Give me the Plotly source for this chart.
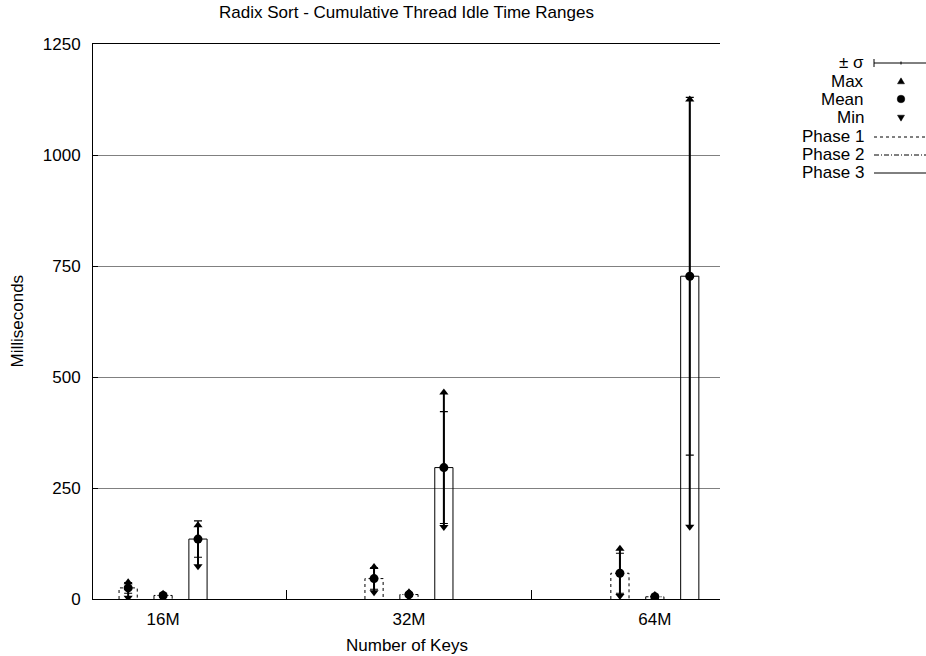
import plotly.graph_objects as go

# ---------------- data ----------------
categories = ["16M", "32M", "64M"]
phase_names = ["Phase 1", "Phase 2", "Phase 3"]

p1_mean = [25, 46, 58]
p1_max = [38, 72, 113]
p1_min = [3, 15, 7]
p1_sd = [12, 24, 45]

p2_mean = [8, 10, 5]
p2_max = [12, 15, 9]
p2_min = [4, 5, 2]
p2_sd = [3, 4, 3]

p3_mean = [135, 296, 727]
p3_max = [166, 465, 1125]
p3_min = [74, 162, 163]
p3_sd = [41, 126, 403]

y_ticks = [0, 250, 500, 750, 1000, 1250]

DASH1 = "3px,3px"
DASH2 = "5px,2px,1px,2px"
phases = [
    (p1_mean, p1_max, p1_min, p1_sd, DASH1),
    (p2_mean, p2_max, p2_min, p2_sd, DASH2),
    (p3_mean, p3_max, p3_min, p3_sd, "solid"),
]

# ---------------- geometry ----------------
FONT = "Liberation Sans, Arial, sans-serif"
FS = 17
W, H = 926, 656
ML, MT = 93, 44
MR = W - 720
MB = H - 599
offsets = [-0.142, 0.0, 0.142]
half_w = 0.037

fig = go.Figure()

for k, (mean, mx, mn, sd, dash) in enumerate(phases):
    bx, by = [], []
    for i in range(len(categories)):
        c = i + offsets[k]
        bx += [c - half_w, c - half_w, c + half_w, c + half_w, None]
        by += [0, mean[i], mean[i], 0, None]
    fig.add_trace(go.Scatter(x=bx, y=by, mode="lines",
                             line=dict(color="black", width=1, dash=dash),
                             hoverinfo="skip", showlegend=False))

for k, (mean, mx, mn, sd, dash) in enumerate(phases):
    xs = [i + offsets[k] for i in range(len(categories))]
    lx, ly = [], []
    for i, c in enumerate(xs):
        lx += [c, c, None]
        ly += [mn[i], mx[i], None]
    fig.add_trace(go.Scatter(x=lx, y=ly, mode="lines",
                             line=dict(color="black", width=2),
                             hoverinfo="skip", showlegend=False))
    fig.add_trace(go.Scatter(x=xs, y=mean, mode="markers",
                             marker=dict(symbol="circle", size=9, color="black"),
                             error_y=dict(type="data", array=sd, visible=True,
                                          color="black", thickness=1.2, width=4),
                             showlegend=False))
    fig.add_trace(go.Scatter(x=xs, y=mx, mode="markers",
                             marker=dict(symbol="triangle-up", size=8, color="black"),
                             showlegend=False))
    fig.add_trace(go.Scatter(x=xs, y=mn, mode="markers",
                             marker=dict(symbol="triangle-down", size=8, color="black"),
                             showlegend=False))

# ---------------- custom legend (right side) ----------------
PW = W - ML - MR
PH = H - MT - MB


def px(xs):
    return (xs - ML) / PW


def py(ys):
    return (H - MB - ys) / PH


legend_labels = ["\u00b1 \u03c3", "Max", "Mean", "Min"] + phase_names
legend_y = [63, 81, 99, 118, 137, 155, 173]
text_right = 866
sample_x0, sample_x1, sym_x = 874, 926, 901

annotations = []
for lab, yy in zip(legend_labels, legend_y):
    annotations.append(dict(text=lab, x=px(text_right), y=py(yy), xref="paper", yref="paper",
                            xanchor="right", yanchor="middle", showarrow=False,
                            font=dict(family=FONT, size=FS, color="black")))

shapes = []
line_blk = dict(color="black", width=1)
# +- sigma sample
yy = legend_y[0]
shapes.append(dict(type="line", xref="paper", yref="paper", x0=px(sample_x0), x1=px(sample_x1),
                   y0=py(yy), y1=py(yy), line=line_blk))
shapes.append(dict(type="line", xref="paper", yref="paper", x0=px(sample_x0), x1=px(sample_x0),
                   y0=py(yy - 4), y1=py(yy + 4), line=line_blk))
shapes.append(dict(type="line", xref="paper", yref="paper", x0=px(sym_x), x1=px(sym_x),
                   y0=py(yy - 1.5), y1=py(yy + 1.5), line=line_blk))
for dash, yy in zip([DASH1, DASH2, "solid"], legend_y[4:]):
    shapes.append(dict(type="line", xref="paper", yref="paper", x0=px(sample_x0), x1=px(sample_x1),
                       y0=py(yy), y1=py(yy), line=dict(color="black", width=1, dash=dash)))


def tri_path(cx, cy, up):
    s = 3.5
    if up:
        pts = [(cx - s, cy + s * 0.8), (cx + s, cy + s * 0.8), (cx, cy - s * 0.9)]
    else:
        pts = [(cx - s, cy - s * 0.8), (cx + s, cy - s * 0.8), (cx, cy + s * 0.9)]
    p = "M {:.5f},{:.5f}".format(px(pts[0][0]), py(pts[0][1]))
    for q in pts[1:]:
        p += " L {:.5f},{:.5f}".format(px(q[0]), py(q[1]))
    return p + " Z"


fill_blk = dict(type="path", xref="paper", yref="paper", fillcolor="black",
                line=dict(color="black", width=0.5))
shapes.append(dict(fill_blk, path=tri_path(sym_x, legend_y[1], True)))
shapes.append(dict(fill_blk, path=tri_path(sym_x, legend_y[3], False)))
r = 3.8
shapes.append(dict(type="circle", xref="paper", yref="paper", fillcolor="black",
                   line=dict(color="black", width=0.5),
                   x0=px(sym_x - r), x1=px(sym_x + r), y0=py(legend_y[2] + r), y1=py(legend_y[2] - r)))

# axis titles
annotations.append(dict(text="Number of Keys", x=0.5, y=py(645), xref="paper", yref="paper",
                        xanchor="center", yanchor="middle", showarrow=False,
                        font=dict(family=FONT, size=FS, color="black")))
annotations.append(dict(text="Milliseconds", x=px(17), y=0.5, xref="paper", yref="paper",
                        xanchor="center", yanchor="middle", showarrow=False, textangle=-90,
                        font=dict(family=FONT, size=FS, color="black")))

fig.update_layout(
    width=W, height=H,
    margin=dict(l=ML, r=MR, t=MT, b=MB),
    paper_bgcolor="white", plot_bgcolor="white",
    font=dict(family=FONT, size=FS, color="black"),
    title=dict(text="Radix Sort - Cumulative Thread Idle Time Ranges", x=0.5, xanchor="center",
               xref="paper", y=1 - 12.5 / H, yref="container", yanchor="middle",
               font=dict(family=FONT, size=FS, color="black")),
    showlegend=False,
    xaxis=dict(range=[-0.285, 2.265], tickmode="array", tickvals=[0, 1, 2], ticktext=categories,
               ticks="", showgrid=False, zeroline=False, showline=True, linecolor="black",
               linewidth=1, mirror=True, ticklabelstandoff=5,
               minor=dict(tickvals=[0.5, 1.5], ticks="inside", ticklen=9, tickcolor="black",
                          showgrid=False)),
    yaxis=dict(range=[0, 1250], tickmode="array", tickvals=y_ticks, ticks="inside", ticklen=5,
               tickcolor="black", showgrid=True, gridcolor="#808080", gridwidth=1,
               zeroline=False, showline=True, linecolor="black", linewidth=1,
               ticklabelstandoff=8),
    annotations=annotations,
    shapes=shapes,
)

fig.write_html("out.html", config={"displayModeBar": False},
               post_script="document.body.style.margin='0px';document.body.style.overflow='hidden';")
